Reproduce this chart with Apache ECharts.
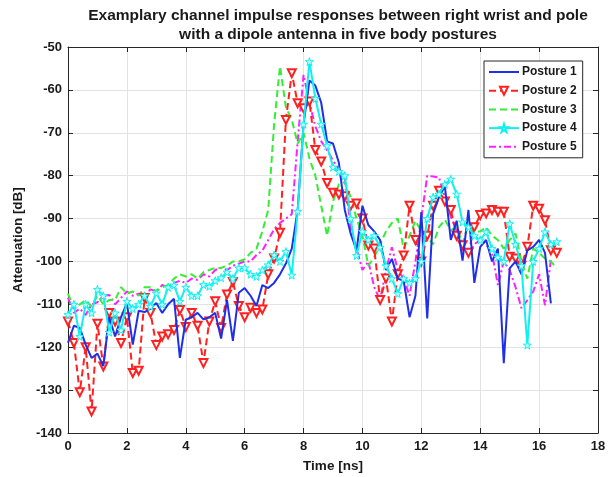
<!DOCTYPE html>
<html>
<head>
<meta charset="utf-8">
<script src="https://cdn.jsdelivr.net/npm/echarts@6/dist/echarts.min.js"></script>
<style>
  html, body { margin: 0; padding: 0; background: #fff; }
  #chart { width: 612px; height: 477px; }
</style>
</head>
<body>
<div id="chart"></div>
<script>
// time samples (ns)
var time = [0, 0.2, 0.4, 0.6, 0.8, 1.0, 1.2, 1.4, 1.6, 1.8, 2.0, 2.2, 2.4, 2.6, 2.8, 3.0, 3.2, 3.4, 3.6, 3.8,
  4.0, 4.2, 4.4, 4.6, 4.8, 5.0, 5.2, 5.4, 5.6, 5.8, 6.0, 6.2, 6.4, 6.6, 6.8, 7.0, 7.2, 7.4, 7.6, 7.8,
  8.0, 8.2, 8.4, 8.6, 8.8, 9.0, 9.2, 9.4, 9.6, 9.8, 10.0, 10.2, 10.4, 10.6, 10.8, 11.0, 11.2, 11.4, 11.6, 11.8,
  12.0, 12.2, 12.4, 12.6, 12.8, 13.0, 13.2, 13.4, 13.6, 13.8, 14.0, 14.2, 14.4, 14.6, 14.8, 15.0, 15.2, 15.4, 15.6, 15.8,
  16.0, 16.2, 16.4, 16.6];

var posture1 = [-119, -115, -115.5, -119.4, -122.5, -121.5, -124.4, -113, -117.5, -113, -109.7, -119.4, -111.5, -111.8, -111, -109.7, -112, -110, -108.7, -122.5,
  -113.6, -113, -112, -113.5, -113, -112, -118, -109, -118.5, -107.3, -106.2, -108, -110.4, -105.5, -106.2, -105, -103, -100.5, -97, -88,
  -68, -57.8, -59, -63, -72, -72.5, -77, -88, -93.5, -97.4, -87, -91.5, -93, -95, -102, -99.4, -104, -104.5, -113, -108,
  -88.5, -113.3, -88.9, -85, -82.5, -95, -90.5, -99.8, -88, -105, -96.6, -95, -100, -97, -123.7, -101.6, -100, -103, -97.4, -96.6,
  -95, -98, -109.8];

var posture2 = [-114, -119, -130.5, -120, -135, -114.5, -124.5, -112, -114, -119, -113, -126, -125.5, -108.5, -112, -119.5, -117.5, -117, -116, -111.3,
  -115.3, -112, -115, -123.7, -114, -109.3, -115.5, -107.7, -104.8, -110.4, -113, -110.8, -112, -111.2, -103, -99.3, -93.3, -67, -56.1, -63.1,
  -64.3, -62.7, -74, -76.7, -81.7, -84, -84.4, -84.8, -87, -86.5, -90, -96.3, -97, -109, -104, -114, -103, -98.6, -87, -95,
  -100, -94, -87, -83.5, -86, -88, -94, -96.2, -98, -92, -89.2, -88.8, -88, -88.4, -88.4, -98.9, -99.3, -101, -96.6, -87,
  -87.7, -90.4, -97.4, -98];

var posture3 = [-107.5, -111, -110, -109, -110.5, -108, -110, -109, -109, -106, -107.5, -107, -108, -106, -106, -107, -106, -105.5, -104, -103,
  -103.5, -103, -104, -102.5, -102, -101.5, -101.5, -101, -100, -100, -99.5, -98, -97, -93, -88, -68, -54.5, -64, -67, -72.5,
  -70, -76, -80, -87, -94, -86, -82, -81.5, -85, -90, -94, -101, -99, -96, -93, -91, -90, -97, -94, -90.5,
  -93, -94.3, -96, -92, -90.3, -92.7, -92, -95.7, -91.5, -93, -93, -92, -94, -95, -97, -95, -93.5, -100, -104, -97,
  -98, -99.3, -100, -101.6];

var posture4 = [-112.4, -110, -117.5, -110, -112, -106.5, -108, -116.5, -112, -116, -109.3, -111, -110, -108, -110.5, -107.4, -110, -106, -105.5, -109.3,
  -106, -108, -108, -105.4, -105.8, -104.5, -103.8, -102.5, -104, -101.5, -101.5, -103, -103.5, -102, -100.8, -98.5, -100, -97.7, -103.2, -88.3,
  -68, -53.4, -62, -68, -73, -78, -79, -80, -90, -98.6, -93, -95, -94, -96.7, -101, -104, -107.5, -104, -105, -104,
  -100, -90, -85, -84.3, -82, -80.8, -84.3, -90.8, -92, -94, -95, -93.1, -97, -99, -100, -91.2, -96, -101, -119.5, -100,
  -97, -93.1, -96, -95.4];

var posture5 = [-108.5, -112, -111, -112.5, -110, -109.5, -108, -107.8, -110, -108.5, -107, -108, -107.5, -108, -106.5, -107, -105.5, -106, -105, -104.5,
  -105, -104, -104.3, -103, -103.5, -102, -101.5, -102, -101, -100.5, -100, -100, -98.5, -97.5, -95, -92.5, -91, -90, -89, -72,
  -56.5, -63, -68.5, -72, -74, -76.5, -78.5, -80.5, -92, -97, -102, -100, -106, -109, -102, -96.7, -102, -104, -108, -100,
  -90, -80, -80.2, -80.4, -85, -89.5, -93, -96, -98.5, -96, -95, -96, -98, -105.5, -100, -102, -106, -110.9, -109, -107,
  -103, -110.2, -99.6];

var seriesNames = ['Posture 1', 'Posture 2', 'Posture 3', 'Posture 4', 'Posture 5'];
var xTicks = [0, 2, 4, 6, 8, 10, 12, 14, 16, 18];
var yTicks = [-140, -130, -120, -110, -100, -90, -80, -70, -60, -50];

function pairs(vals) {
  return vals.map(function (v, i) { return [time[i], v]; });
}

var starPath = 'path://M50,0 L61,35 L98,35 L68,57 L79,91 L50,70 L21,91 L32,57 L2,35 L39,35 Z';
var axisColor = '#262626';
var fontFam = '"Liberation Sans", Arial, sans-serif';

var chart = echarts.init(document.getElementById('chart'));
chart.setOption({
  backgroundColor: '#fff',
  animation: false,
  title: {
    text: 'Examplary channel impulse responses between right wrist and pole\nwith a dipole antenna in five body postures',
    left: 333,
    top: 1,
    textAlign: 'center',
    textStyle: { fontFamily: fontFam, fontSize: 15.5, fontWeight: 'bold', color: '#1a1a1a', lineHeight: 19 }
  },
  legend: {
    orient: 'vertical',
    left: 484,
    top: 61,
    padding: [5, 6, 5, 4],
    itemGap: 6.7,
    itemWidth: 30,
    itemHeight: 10,
    backgroundColor: '#fff',
    borderColor: '#262626',
    borderWidth: 1,
    textStyle: { fontFamily: fontFam, fontSize: 12, fontWeight: 'bold', color: '#1a1a1a', padding: [0, 0, 0, -2] },
    data: [
      { name: seriesNames[0], itemStyle: { opacity: 0 } },
      { name: seriesNames[1] },
      { name: seriesNames[2], itemStyle: { opacity: 0 } },
      { name: seriesNames[3] },
      { name: seriesNames[4], itemStyle: { opacity: 0 } }
    ]
  },
  grid: { left: 68, right: 14, top: 47, bottom: 44, outerBoundsMode: 'none' },
  xAxis: [{
    type: 'value', min: 0, max: 18, interval: 2,
    name: 'Time [ns]', nameLocation: 'middle', nameGap: 26,
    nameTextStyle: { fontFamily: fontFam, fontSize: 13.5, fontWeight: 'bold', color: '#1a1a1a' },
    axisLine: { onZero: false, lineStyle: { color: axisColor } },
    axisTick: { inside: true, length: 5, lineStyle: { color: axisColor } },
    axisLabel: {
      fontFamily: fontFam, fontSize: 13, fontWeight: 'bold', color: '#1a1a1a', margin: 7,
      customValues: xTicks
    },
    splitLine: { show: true, lineStyle: { color: '#e3e3e3' } }
  }, {
    type: 'value', min: 0, max: 18, interval: 2, position: 'top',
    axisLine: { onZero: false, lineStyle: { color: axisColor } },
    axisTick: { inside: true, length: 5, lineStyle: { color: axisColor } },
    axisLabel: { show: false },
    splitLine: { show: false }
  }],
  yAxis: [{
    type: 'value', min: -140, max: -50, interval: 10,
    name: 'Attenuation [dB]', nameLocation: 'middle', nameGap: 40,
    nameTextStyle: { fontFamily: fontFam, fontSize: 13.5, fontWeight: 'bold', color: '#1a1a1a' },
    axisLine: { show: true, onZero: false, lineStyle: { color: axisColor } },
    axisTick: { show: true, inside: true, length: 5, lineStyle: { color: axisColor } },
    axisLabel: {
      fontFamily: fontFam, fontSize: 13, fontWeight: 'bold', color: '#1a1a1a', margin: 6,
      customValues: yTicks
    },
    splitLine: { show: true, lineStyle: { color: '#e3e3e3' } }
  }, {
    type: 'value', min: -140, max: -50, interval: 10, position: 'right',
    axisLine: { show: true, onZero: false, lineStyle: { color: axisColor } },
    axisTick: { show: true, inside: true, length: 5, lineStyle: { color: axisColor } },
    axisLabel: { show: false },
    splitLine: { show: false }
  }],
  series: [{
    name: seriesNames[0], type: 'line', data: pairs(posture1),
    showSymbol: false, symbol: 'none',
    lineStyle: { color: '#1f2fe8', width: 2 },
    itemStyle: { color: '#1f2fe8' },
    z: 5
  }, {
    name: seriesNames[1], type: 'line', data: pairs(posture2),
    symbol: 'emptyTriangle', symbolRotate: 180, symbolSize: 8,
    lineStyle: { color: '#ff2020', width: 2, type: [7, 4] },
    itemStyle: { color: '#ff2020', borderWidth: 1 },
    z: 4
  }, {
    name: seriesNames[2], type: 'line', data: pairs(posture3),
    showSymbol: false, symbol: 'none',
    lineStyle: { color: '#33ee33', width: 2, type: [7, 4] },
    itemStyle: { color: '#33ee33' },
    z: 3
  }, {
    name: seriesNames[3], type: 'line', data: pairs(posture4),
    symbol: starPath, symbolSize: 8,
    lineStyle: { color: '#10f0f0', width: 2 },
    itemStyle: { color: '#c8ffff', borderColor: '#10f0f0', borderWidth: 1 },
    z: 6
  }, {
    name: seriesNames[4], type: 'line', data: pairs(posture5),
    showSymbol: false, symbol: 'none',
    lineStyle: { color: '#ff20ff', width: 2, type: [7, 3, 2, 3] },
    itemStyle: { color: '#ff20ff' },
    z: 2
  }]
});
</script>
</body>
</html>
